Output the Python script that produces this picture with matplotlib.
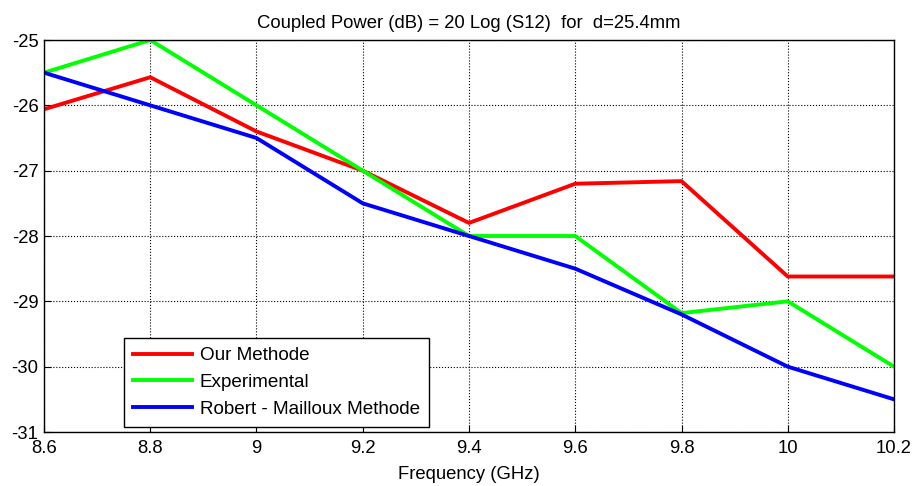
import matplotlib
matplotlib.use("Agg")
import matplotlib.pyplot as plt

plt.rcParams['font.family'] = ['Liberation Sans', 'DejaVu Sans']
plt.rcParams['axes.unicode_minus'] = False

freq = [8.6, 8.8, 9.0, 9.2, 9.4, 9.6, 9.8, 10.0, 10.2]
our_methode = [-26.06, -25.57, -26.4, -27.0, -27.8, -27.2, -27.16, -28.62, -28.62]
experimental = [-25.5, -25.0, -26.0, -27.0, -28.0, -28.0, -29.18, -29.0, -30.0]
robert_mailloux = [-25.5, -26.0, -26.5, -27.5, -28.0, -28.5, -29.2, -30.0, -30.5]

xticks = [8.6, 8.8, 9, 9.2, 9.4, 9.6, 9.8, 10, 10.2]
xtick_labels = ['8.6', '8.8', '9', '9.2', '9.4', '9.6', '9.8', '10', '10.2']
yticks = [-31, -30, -29, -28, -27, -26, -25]

fig = plt.figure(figsize=(9.17, 4.86), dpi=100)
ax = fig.add_axes([44 / 917, 1 - 432 / 486, 850 / 917, 392 / 486])

ax.plot(freq, our_methode, color='#ff0000', lw=2.8, label='Our Methode')
ax.plot(freq, experimental, color='#00ff00', lw=2.8, label='Experimental')
ax.plot(freq, robert_mailloux, color='#0000ff', lw=2.8, label='Robert - Mailloux Methode')

ax.set_xlim(8.6, 10.2)
ax.set_ylim(-31, -25)
ax.set_xticks(xticks)
ax.set_xticklabels(xtick_labels)
ax.set_yticks(yticks)
ax.tick_params(direction='in', labelsize=13.3, length=5)
ax.tick_params(axis='y', pad=4)
ax.tick_params(axis='x', pad=6)
ax.grid(True, color='black', linestyle=':', linewidth=0.8)
for s in ax.spines.values():
    s.set_linewidth(1.0)

ax.set_title('Coupled Power (dB) = 20 Log (S12)  for  d=25.4mm', fontsize=13.3, pad=9)
ax.set_xlabel('Frequency (GHz)', fontsize=13.3, labelpad=6)

leg = ax.legend(loc='lower left', bbox_to_anchor=(80 / 850, 5 / 392), fontsize=13.6,
                frameon=True, fancybox=False, edgecolor='black', framealpha=1,
                handlelength=3.1, handletextpad=0.4, borderpad=0.5, labelspacing=0.5,
                borderaxespad=0)
leg.get_frame().set_linewidth(1.0)

fig.savefig('out.png', dpi=100)
